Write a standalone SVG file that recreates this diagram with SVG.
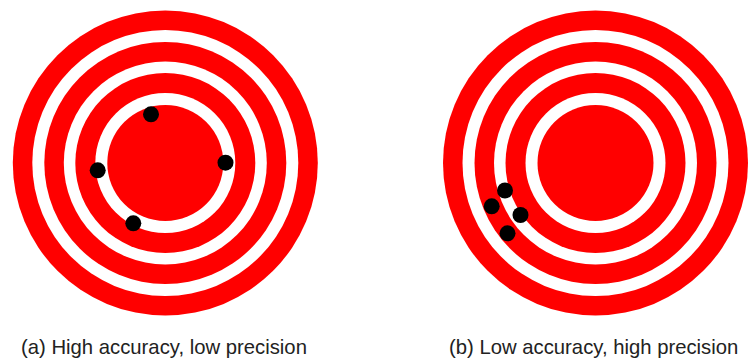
<svg xmlns="http://www.w3.org/2000/svg" xmlns:xlink="http://www.w3.org/1999/xlink" width="755" height="361" viewBox="0 0 755 361">
  <style>
    .red { fill: #ff0000; }
    .white { fill: #ffffff; }
    .dot { fill: #000000; }
    .label { font-family: "Liberation Sans", Arial, sans-serif; font-size: 20.3px; fill: #222222; }
  </style>
  <defs>
    <g id="rings">
      <circle class="red" r="152.5"/>
      <circle class="white" r="133"/>
      <circle class="red" r="121"/>
      <circle class="white" r="101.5"/>
      <circle class="red" r="90"/>
      <circle class="white" r="70"/>
      <circle class="red" r="58"/>
    </g>
  </defs>
  <rect width="755" height="361" fill="#ffffff"/>
  <g id="target-a">
    <use xlink:href="#rings" href="#rings" x="165.3" y="163"/>
    <circle class="dot" cx="151" cy="114.3" r="8"/>
    <circle class="dot" cx="225.5" cy="162.7" r="8"/>
    <circle class="dot" cx="97.7" cy="170.3" r="8"/>
    <circle class="dot" cx="133.3" cy="223.3" r="8"/>
    <text class="label" x="21" y="354">(a) High accuracy, low precision</text>
  </g>
  <g id="target-b">
    <use xlink:href="#rings" href="#rings" x="595.5" y="163"/>
    <circle class="dot" cx="505" cy="190.5" r="8"/>
    <circle class="dot" cx="491.7" cy="206.3" r="8"/>
    <circle class="dot" cx="520.5" cy="215" r="8"/>
    <circle class="dot" cx="507.5" cy="233.3" r="8"/>
    <text class="label" x="449" y="354">(b) Low accuracy, high precision</text>
  </g>
</svg>
